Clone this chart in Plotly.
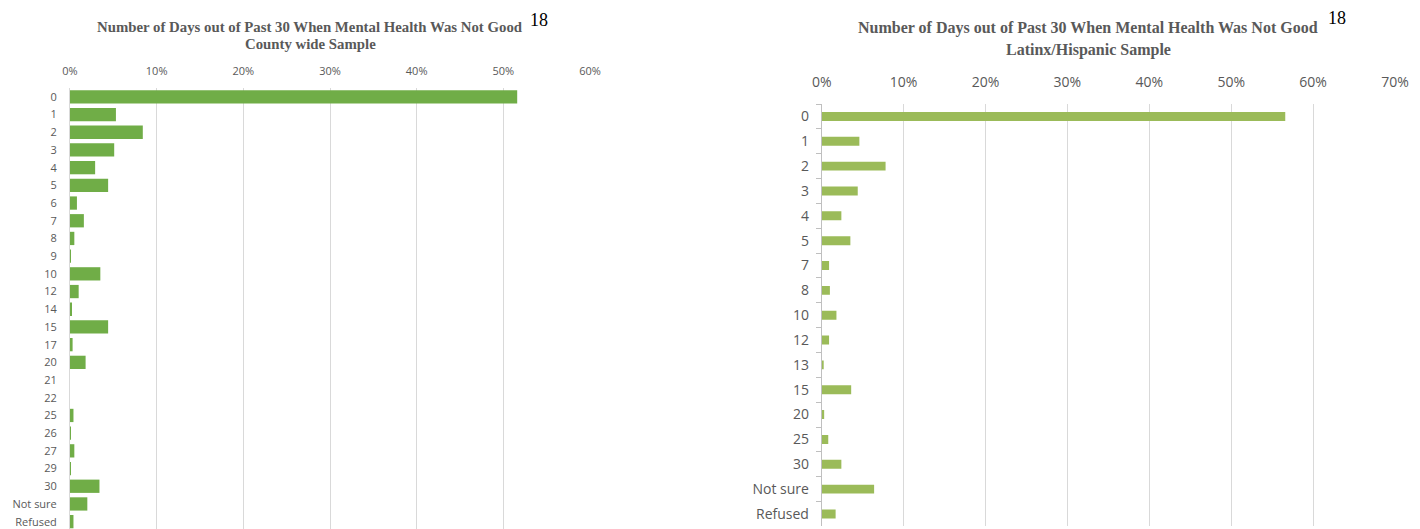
import plotly.graph_objects as go

# Left: County wide sample
left_cats = ["0", "1", "2", "3", "4", "5", "6", "7", "8", "9", "10", "12", "14", "15",
             "17", "20", "21", "22", "25", "26", "27", "29", "30", "Not sure", "Refused"]
left_vals = [51.6, 5.3, 8.4, 5.1, 2.9, 4.4, 0.8, 1.6, 0.5, 0.1, 3.5, 1.0, 0.2, 4.4,
             0.3, 1.8, 0.0, 0.0, 0.4, 0.1, 0.5, 0.1, 3.4, 2.0, 0.4]

# Right: Latinx/Hispanic sample
right_cats = ["0", "1", "2", "3", "4", "5", "7", "8", "10", "12", "13", "15", "20",
              "25", "30", "Not sure", "Refused"]
right_vals = [56.6, 4.6, 7.8, 4.4, 2.4, 3.5, 0.9, 1.0, 1.8, 0.9, 0.2, 3.6, 0.3,
              0.8, 2.4, 6.4, 1.7]

left_ticks = [0, 10, 20, 30, 40, 50, 60]
right_ticks = [0, 10, 20, 30, 40, 50, 60, 70]

title_line1 = "Number of Days out of Past 30 When Mental Health Was Not Good"
left_sub = "County wide Sample"
right_sub = "Latinx/Hispanic Sample"
footnote = "18"

# page body has an 8px default margin: work in window pixels, shift by it
OFF = 8
W, H = 1420 - OFF, 529 - OFF
GRAY = "#595959"


def px(x):
    return (x - OFF) / W


def py(y):
    return 1 - (y - OFF) / H


fig = go.Figure()
fig.add_trace(go.Bar(x=left_vals, y=left_cats, orientation="h",
                     marker=dict(color="#70AD47", line=dict(width=0)),
                     xaxis="x", yaxis="y", hoverinfo="x+y"))
fig.add_trace(go.Bar(x=right_vals, y=right_cats, orientation="h",
                     marker=dict(color="#9BBB59", line=dict(width=0)),
                     xaxis="x2", yaxis="y2", hoverinfo="x+y", width=0.36))

# plot areas in window pixels
lx0, lx1, ly0 = 70, 590, 88
rx0, rx1, ry0, ry1 = 821.7, 1395, 104, 526.4
lstep = 17.7
lbottom = -0.5 + (529 - ly0) / lstep

fig.update_layout(
    width=W, height=H,
    margin=dict(l=0, r=0, t=0, b=0, autoexpand=False),
    paper_bgcolor="white", plot_bgcolor="white",
    showlegend=False,
    bargap=0.25,
    xaxis=dict(domain=[px(lx0), px(lx1)], range=[0, 60], side="top", anchor="y",
               tickvals=left_ticks, ticktext=[f"{v}%" for v in left_ticks],
               showgrid=True, gridcolor="#d9d9d9", gridwidth=1, zeroline=False,
               ticks="outside", ticklen=8, tickcolor="rgba(0,0,0,0)",
               tickfont=dict(family="Open Sans, Calibri, sans-serif", size=11, color=GRAY),
               showline=False, fixedrange=True, automargin=False),
    yaxis=dict(domain=[0, py(ly0)], anchor="x", type="category",
               categoryorder="array", categoryarray=left_cats,
               range=[lbottom, -0.5],
               ticks="outside", ticklen=10, tickcolor="rgba(0,0,0,0)",
               showline=True, linecolor="#d9d9d9", linewidth=1,
               tickfont=dict(family="Open Sans, Calibri, sans-serif", size=11, color=GRAY),
               showgrid=False, fixedrange=True, automargin=False),
    xaxis2=dict(domain=[px(rx0), px(rx1)], range=[0, 70], side="top", anchor="y2",
                tickvals=right_ticks, ticktext=[f"{v}%" for v in right_ticks],
                showgrid=True, gridcolor="#d9d9d9", gridwidth=1, zeroline=False,
                ticks="outside", ticklen=10, tickcolor="rgba(0,0,0,0)",
                tickfont=dict(family="Open Sans, Calibri, sans-serif", size=14, color=GRAY),
                showline=False, fixedrange=True, automargin=False),
    yaxis2=dict(domain=[max(0, py(ry1)), py(ry0)], anchor="x2", type="category",
                categoryorder="array", categoryarray=right_cats,
                autorange="reversed",
                ticks="outside", ticklen=5, tickcolor="#bfbfbf", tickson="boundaries",
                ticklabelstandoff=9,
                showline=True, linecolor="#bfbfbf", linewidth=1,
                tickfont=dict(family="Open Sans, Calibri, sans-serif", size=14, color=GRAY),
                showgrid=False, fixedrange=True, automargin=False),
)


def ann(text, x, y, size, color, bold=False):
    fig.add_annotation(x=px(x), y=py(y), xref="paper", yref="paper",
                       text=f"<b>{text}</b>" if bold else text, showarrow=False,
                       xanchor="center", yanchor="middle",
                       font=dict(family="Liberation Serif, Times New Roman, serif",
                                 size=size, color=color))


ann(title_line1, 310, 27, 14.8, GRAY, bold=True)
ann(left_sub, 310, 44, 14.8, GRAY, bold=True)
ann(footnote, 539, 20, 18, "black")
ann(title_line1, 1088, 28, 16, GRAY, bold=True)
ann(right_sub, 1088, 50, 16, GRAY, bold=True)
ann(footnote, 1337, 18, 18, "black")

fig.write_html("out.html")
